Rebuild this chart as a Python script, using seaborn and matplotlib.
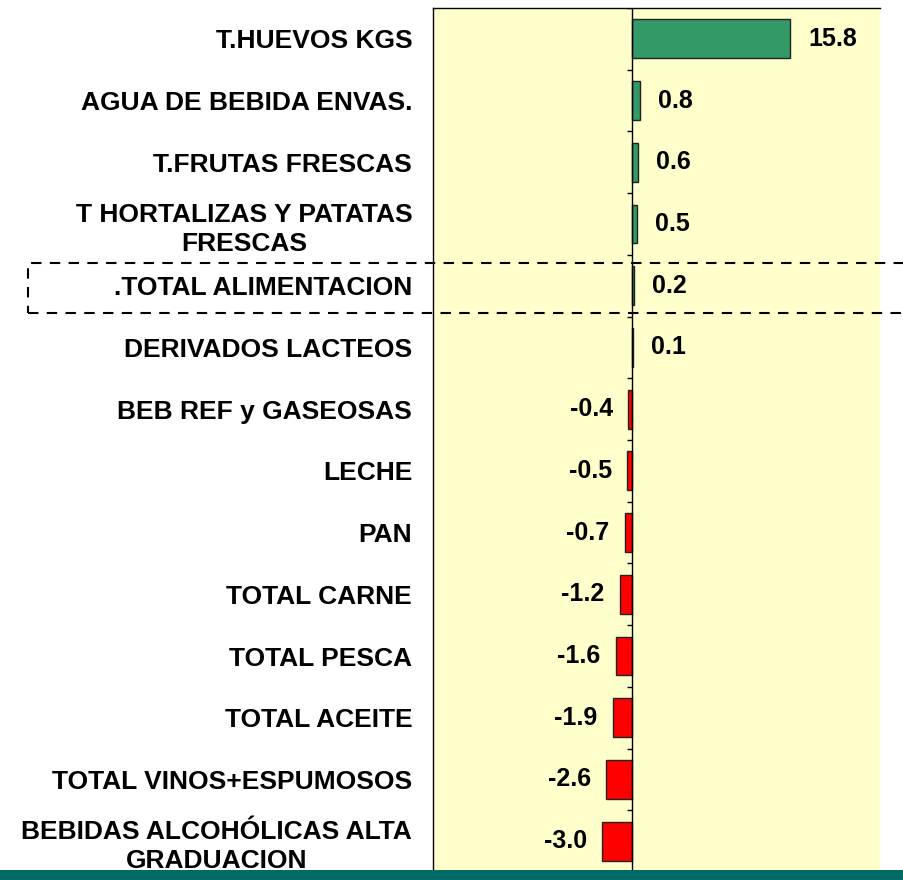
import matplotlib
matplotlib.use("Agg")
import matplotlib.pyplot as plt
import matplotlib.patches as patches
import numpy as np
import seaborn as sns

# data
categories = [
    "T.HUEVOS KGS",
    "AGUA DE BEBIDA ENVAS.",
    "T.FRUTAS FRESCAS",
    "T HORTALIZAS Y PATATAS\nFRESCAS",
    ".TOTAL ALIMENTACION",
    "DERIVADOS LACTEOS",
    "BEB REF y GASEOSAS",
    "LECHE",
    "PAN",
    "TOTAL CARNE",
    "TOTAL PESCA",
    "TOTAL ACEITE",
    "TOTAL VINOS+ESPUMOSOS",
    "BEBIDAS ALCOHÓLICAS ALTA\nGRADUACION",
]
values = [15.8, 0.8, 0.6, 0.5, 0.2, 0.1, -0.4, -0.5, -0.7, -1.2, -1.6, -1.9, -2.6, -3.0]

GREEN = "#339966"
RED = "#FF0000"
colors = [GREEN if v >= 0 else RED for v in values]

sns.set_theme(style="white")
plt.rcParams["font.family"] = ["Liberation Sans", "DejaVu Sans"]
plt.rcParams["text.color"] = "black"
plt.rcParams["ytick.color"] = "black"
plt.rcParams["ytick.labelcolor"] = "black"

fig = plt.figure(figsize=(9.04, 8.80), dpi=100)
ax = fig.add_axes([433 / 904, 8 / 880, (880 - 433) / 904, (872 - 8) / 880])
ax.set_facecolor("#FFFFCC")

sns.barplot(x=values, y=categories, hue=categories, palette=colors, legend=False,
            orient="h", width=0.63, saturation=1, edgecolor="#222222",
            linewidth=1, ax=ax)

ax.set_xlim(-19.9, 24.8)
ax.set_ylim(len(categories) - 0.5, -0.5)
ax.axvline(0, color="black", lw=1, zorder=1)
# small tick marks at the category boundaries on the zero line
bounds = np.arange(len(categories) + 1) - 0.5
ax.hlines(bounds, -0.5, 0, color="black", lw=1)

for i, v in enumerate(values):
    if v >= 0:
        ax.annotate(f"{v:.1f}", (v, i), xytext=(13, 0), textcoords="offset points",
                    ha="left", va="center", fontsize=18, fontweight="bold")
    else:
        ax.annotate(f"{v:.1f}", (v, i), xytext=(-11, 0), textcoords="offset points",
                    ha="right", va="center", fontsize=18, fontweight="bold")

ax.set_xticks([])
ax.set_xlabel("")
ax.set_ylabel("")
ax.tick_params(axis="y", length=0, pad=15)
for lbl in ax.get_yticklabels():
    lbl.set_fontsize(19)
    lbl.set_fontweight("bold")
    lbl.set_multialignment("center")
    lbl.set_linespacing(1.3)

for side in ["left", "top", "bottom"]:
    ax.spines[side].set_color("black")
    ax.spines[side].set_linewidth(1)
ax.spines["right"].set_visible(False)

# dashed box around the total row
box = patches.Rectangle((28 / 904, (880 - 313) / 880), 1.0, 50 / 880,
                        transform=fig.transFigure, fill=False, edgecolor="black",
                        linestyle=(0, (5, 4)), lw=1.5, clip_on=False)
fig.add_artist(box)

# teal band at the bottom
band = patches.Rectangle((0, 0), 1, 10 / 880, transform=fig.transFigure,
                         facecolor="#006A66", edgecolor="none")
fig.add_artist(band)

fig.savefig("out.png", dpi=100)
